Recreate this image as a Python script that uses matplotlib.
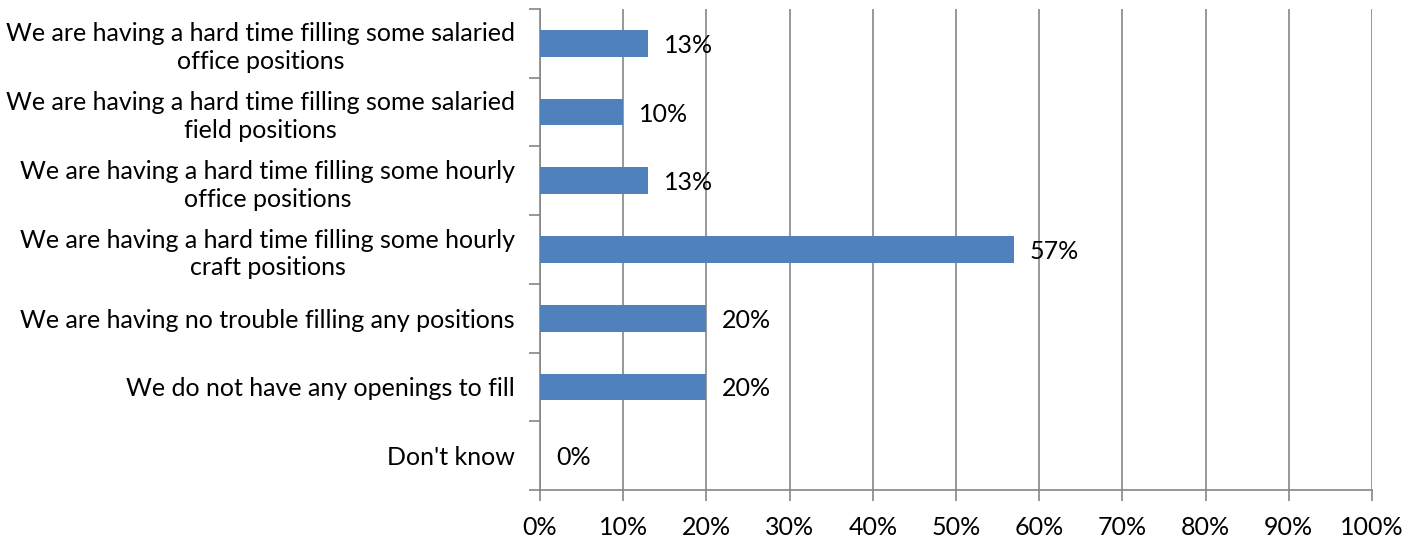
import matplotlib
matplotlib.use("Agg")
import matplotlib.pyplot as plt
from matplotlib.ticker import FixedLocator

plt.rcParams['font.family'] = ['Lato', 'DejaVu Sans']

categories = [
    "We are having a hard time filling some salaried\noffice positions",
    "We are having a hard time filling some salaried\nfield positions",
    "We are having a hard time filling some hourly\noffice positions",
    "We are having a hard time filling some hourly\ncraft positions",
    "We are having no trouble filling any positions",
    "We do not have any openings to fill",
    "Don't know",
]
values = [13, 10, 13, 57, 20, 20, 0]
xticks = [0, 10, 20, 30, 40, 50, 60, 70, 80, 90, 100]
xticklabels = [f"{t}%" for t in xticks]

FS = 18

fig = plt.figure(figsize=(14.2, 5.41), dpi=100)
ax = fig.add_axes([540/1420, 1-490/541, (1372-540)/1420, (490-9)/541])

n = len(categories)
ypos = list(range(n))
ax.barh(ypos, values, height=0.39, color="#4F81BD", zorder=3)
ax.set_ylim(n - 0.5, -0.5)
ax.set_xlim(0, 100)

for y, v in zip(ypos, values):
    ax.text(v + 1.9, y + 0.03, f"{v}%", va="center", ha="left", fontsize=FS, color="black", zorder=4)

ax.set_xticks(xticks)
ax.set_xticklabels(xticklabels, fontsize=FS)
ax.set_yticks(ypos)
ax.set_yticklabels(categories, fontsize=FS, multialignment="center", linespacing=1.25)
ax.tick_params(axis="y", length=0, pad=18)
ax.yaxis.set_minor_locator(FixedLocator([i - 0.5 for i in range(n + 1)]))
ax.tick_params(axis="y", which="minor", length=8, color="#868686", width=1.2)
ax.tick_params(axis="x", length=8, color="#868686", width=1.2, pad=11)

ax.grid(axis="x", color="#868686", linewidth=1.2, zorder=0)
for s in ["top", "right"]:
    ax.spines[s].set_visible(False)
for s in ["left", "bottom"]:
    ax.spines[s].set_color("#868686")
    ax.spines[s].set_linewidth(1.2)

fig.savefig("out.png", dpi=100)
